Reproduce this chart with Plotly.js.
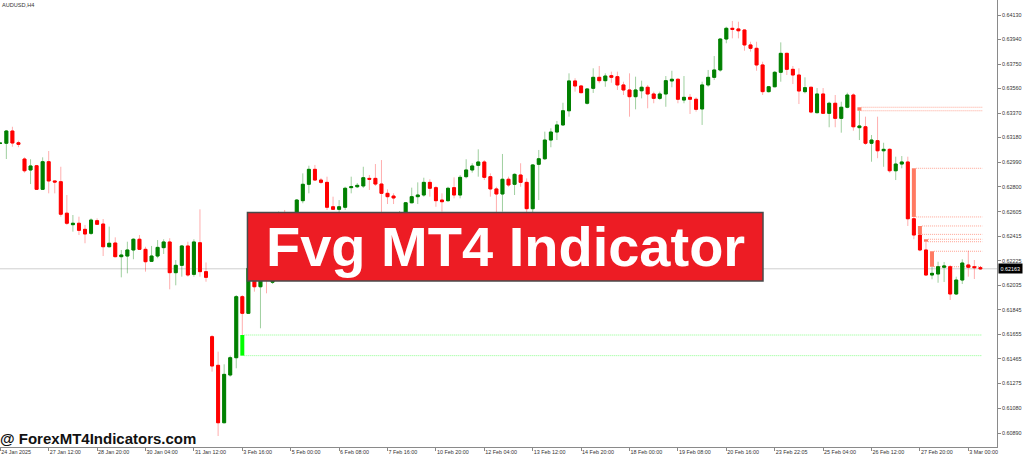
<!DOCTYPE html>
<html><head><meta charset="utf-8">
<script src="https://cdn.plot.ly/plotly-3.0.1.min.js"></script>
<style>html,body{margin:0;padding:0;background:#fff;}#chart{width:1024px;height:456px;}</style>
</head><body><div id="chart"></div>
<script>
const symbolLabel = "AUDUSD,H4";
const bannerText = "Fvg MT4 Indicator";
const watermarkText = "@ ForexMT4Indicators.com";

const openP = [0.63136,0.63136,0.63231,0.63140,0.63014,0.62929,0.62962,0.62779,0.62993,0.62844,
0.62838,0.62594,0.62505,0.62516,0.62469,0.62438,0.62536,0.62510,0.62334,0.62363,
0.62257,0.62262,0.62309,0.62392,0.62314,0.62221,0.62262,0.62327,0.62371,0.62133,
0.62190,0.62340,0.62120,0.62365,0.62141,0.61637,0.61415,0.60970,0.61340,0.61474,
0.61947,0.61818,0.62154,0.62024,0.62138,0.62059,0.62216,0.62588,0.62526,0.62572,
0.62691,0.62818,0.62934,0.62851,0.62833,0.62644,0.62624,0.62640,0.62792,0.62799,
0.62805,0.62864,0.62864,0.62820,0.62748,0.62727,0.62526,0.62588,0.62675,0.62722,
0.62735,0.62833,0.62792,0.62696,0.62691,0.62792,0.62735,0.62877,0.62929,0.62965,
0.62991,0.62877,0.62782,0.62743,0.62857,0.62818,0.62890,0.62833,0.62629,0.62973,
0.63016,0.63161,0.63223,0.63278,0.63388,0.63619,0.63580,0.63446,0.63562,0.63647,
0.63621,0.63660,0.63652,0.63588,0.63549,0.63497,0.63543,0.63570,0.63518,0.63484,
0.63518,0.63619,0.63632,0.63471,0.63492,0.63477,0.63402,0.63588,0.63647,0.63704,
0.63944,0.64027,0.64022,0.64014,0.63898,0.63872,0.63743,0.63536,0.63574,0.63686,
0.63833,0.63709,0.63665,0.63536,0.63570,0.63373,0.63518,0.63368,0.63446,0.63329,
0.63415,0.63510,0.63257,0.63264,0.63136,0.63156,0.63078,0.63089,0.62923,0.62975,
0.62991,0.62551,0.62425,0.62309,0.62115,0.62123,0.62175,0.62179,0.61968,0.62076,
0.62193,0.62179,0.62172];
const highP = [0.63142,0.63239,0.63264,0.63156,0.63027,0.63012,0.62968,0.63027,0.63076,0.62846,
0.62954,0.62735,0.62580,0.62567,0.62503,0.62554,0.62554,0.62549,0.62490,0.62407,
0.62309,0.62373,0.62400,0.62425,0.62334,0.62340,0.62386,0.62392,0.62400,0.62231,
0.62348,0.62373,0.62392,0.62624,0.62212,0.61650,0.61521,0.61423,0.61490,0.61960,
0.61960,0.62185,0.62185,0.62169,0.62216,0.62247,0.62607,0.62619,0.62588,0.62704,
0.62903,0.62962,0.62968,0.62867,0.62877,0.62722,0.62696,0.62799,0.62877,0.62828,
0.62954,0.62890,0.62975,0.63006,0.62779,0.62748,0.62611,0.62681,0.62792,0.62833,
0.62869,0.62857,0.62805,0.62748,0.62799,0.62872,0.62890,0.63012,0.62981,0.63089,
0.63006,0.62903,0.62799,0.63053,0.62877,0.62903,0.62981,0.62864,0.62975,0.63084,
0.63226,0.63252,0.63309,0.63450,0.63678,0.63640,0.63588,0.63562,0.63717,0.63735,
0.63678,0.63691,0.63691,0.63613,0.63678,0.63652,0.63621,0.63588,0.63536,0.63536,
0.63657,0.63698,0.63640,0.63657,0.63518,0.63492,0.63613,0.63704,0.63812,0.63949,
0.64039,0.64084,0.64078,0.64019,0.63923,0.63923,0.63768,0.63580,0.63696,0.63918,
0.63838,0.63735,0.63717,0.63647,0.63574,0.63564,0.63564,0.63458,0.63510,0.63458,
0.63528,0.63523,0.63388,0.63342,0.63200,0.63342,0.63140,0.63097,0.63032,0.63037,
0.63032,0.62565,0.62430,0.62373,0.62179,0.62218,0.62216,0.62193,0.62102,0.62237,
0.62303,0.62231,0.62185];
const lowP = [0.63130,0.63014,0.63109,0.63105,0.62908,0.62820,0.62774,0.62774,0.62748,0.62748,
0.62567,0.62503,0.62451,0.62425,0.62361,0.62425,0.62503,0.62262,0.62329,0.62252,
0.62097,0.62128,0.62237,0.62309,0.62141,0.62216,0.62245,0.62278,0.62004,0.62035,
0.62102,0.62102,0.62102,0.62102,0.62063,0.61366,0.60867,0.60966,0.61327,0.61392,
0.61650,0.61813,0.61986,0.61702,0.61973,0.62045,0.62200,0.62479,0.62495,0.62549,
0.62671,0.62748,0.62844,0.62820,0.62619,0.62619,0.62595,0.62619,0.62748,0.62789,
0.62789,0.62774,0.62805,0.62595,0.62665,0.62665,0.62495,0.62572,0.62671,0.62665,
0.62722,0.62722,0.62644,0.62606,0.62683,0.62709,0.62709,0.62864,0.62908,0.62877,
0.62851,0.62722,0.62593,0.62606,0.62799,0.62735,0.62799,0.62593,0.62588,0.62696,
0.63006,0.63105,0.63161,0.63270,0.63342,0.63536,0.63523,0.63436,0.63526,0.63601,
0.63574,0.63605,0.63549,0.63510,0.63342,0.63399,0.63484,0.63407,0.63446,0.63471,
0.63419,0.63570,0.63446,0.63446,0.63363,0.63381,0.63278,0.63574,0.63626,0.63691,
0.63911,0.63949,0.63949,0.63853,0.63846,0.63698,0.63510,0.63529,0.63570,0.63613,
0.63665,0.63595,0.63440,0.63523,0.63368,0.63367,0.63363,0.63260,0.63260,0.63218,
0.63407,0.63233,0.63161,0.63123,0.62993,0.63020,0.62954,0.62908,0.62851,0.62942,
0.62495,0.62392,0.62299,0.62107,0.62082,0.62055,0.62061,0.61921,0.61960,0.62045,
0.62102,0.62084,0.62154];
const closeP = [0.63136,0.63231,0.63138,0.63128,0.62923,0.62960,0.62779,0.62993,0.62844,0.62836,
0.62586,0.62516,0.62516,0.62461,0.62433,0.62541,0.62508,0.62334,0.62361,0.62257,
0.62270,0.62309,0.62392,0.62314,0.62218,0.62262,0.62329,0.62371,0.62133,0.62190,
0.62340,0.62115,0.62371,0.62141,0.62097,0.61410,0.60970,0.61345,0.61474,0.61947,
0.61818,0.62167,0.62024,0.62138,0.62092,0.62216,0.62588,0.62526,0.62572,0.62696,
0.62818,0.62934,0.62851,0.62833,0.62640,0.62624,0.62644,0.62787,0.62799,0.62810,
0.62869,0.62857,0.62820,0.62748,0.62722,0.62712,0.62595,0.62675,0.62722,0.62735,
0.62833,0.62787,0.62691,0.62683,0.62787,0.62735,0.62872,0.62929,0.62960,0.62991,
0.62872,0.62782,0.62743,0.62857,0.62813,0.62895,0.62833,0.62629,0.62968,0.63016,
0.63161,0.63223,0.63278,0.63388,0.63619,0.63580,0.63528,0.63557,0.63647,0.63621,
0.63657,0.63647,0.63588,0.63549,0.63497,0.63549,0.63570,0.63518,0.63484,0.63518,
0.63621,0.63632,0.63477,0.63492,0.63477,0.63399,0.63588,0.63647,0.63704,0.63944,
0.64027,0.64019,0.64008,0.63898,0.63872,0.63743,0.63536,0.63574,0.63686,0.63833,
0.63709,0.63665,0.63541,0.63567,0.63378,0.63518,0.63368,0.63446,0.63329,0.63415,
0.63510,0.63264,0.63270,0.63136,0.63161,0.63078,0.63089,0.62923,0.62975,0.62991,
0.62551,0.62425,0.62309,0.62115,0.62128,0.62179,0.62185,0.61968,0.62076,0.62208,
0.62175,0.62172,0.62163];

const timeLabels = ["24 Jan 2025","27 Jan 12:00","28 Jan 20:00","30 Jan 04:00","31 Jan 12:00","3 Feb 16:00","5 Feb 00:00","6 Feb 08:00","7 Feb 16:00","10 Feb 20:00","12 Feb 04:00","13 Feb 12:00","14 Feb 20:00","18 Feb 00:00","19 Feb 08:00","20 Feb 16:00","23 Feb 22:05","25 Feb 04:00","26 Feb 12:00","27 Feb 20:00","3 Mar 00:00"];
const timeLabelBars = [0,8,16,24,32,40,48,56,64,72,80,88,96,104,112,120,128,136,144,152,160];
const priceTicks = [0.64130,0.63940,0.63750,0.63560,0.63370,0.63180,0.62990,0.62800,0.62605,0.62415,0.62225,0.62035,0.61845,0.61655,0.61465,0.61275,0.61080,0.60890];
const currentPrice = 0.62163;

// Fair value gaps found by the indicator
const fvgBar    = [40, 142, 151, 152, 153, 154];
const fvgTop    = [0.61650, 0.63415, 0.62942, 0.62495, 0.62392, 0.62299];
const fvgBottom = [0.61490, 0.63388, 0.62565, 0.62430, 0.62373, 0.62179];
const fvgKind   = ["bull","bear","bear","bear","bear","bear"];

const xs = openP.map((_, i) => i);
const lastBar = xs[xs.length - 1];
const bodyHigh = openP.map((o, i) => Math.max(o, closeP[i]));
const bodyLow = openP.map((o, i) => Math.min(o, closeP[i]));

const wicks = {
  type: 'candlestick', x: xs, open: openP, high: highP, low: lowP, close: closeP,
  whiskerwidth: 0, hoverinfo: 'skip', showlegend: false,
  increasing: {line: {color: 'rgba(0,128,0,0.38)', width: 1}, fillcolor: 'rgba(0,128,0,0.38)'},
  decreasing: {line: {color: 'rgba(255,0,0,0.32)', width: 1}, fillcolor: 'rgba(255,0,0,0.32)'}
};
const bodies = {
  type: 'candlestick', x: xs, open: openP, high: bodyHigh, low: bodyLow, close: closeP,
  whiskerwidth: 0, hoverinfo: 'skip', showlegend: false,
  increasing: {line: {color: '#008000', width: 1}, fillcolor: '#008000'},
  decreasing: {line: {color: '#ff0000', width: 1}, fillcolor: '#ff0000'}
};

const shapes = [];
shapes.push({type: 'line', xref: 'paper', x0: 0, x1: 1, yref: 'y', y0: currentPrice, y1: currentPrice,
  line: {color: '#cfcfcf', width: 1}, layer: 'below'});
fvgBar.forEach((b, k) => {
  const bull = fvgKind[k] === 'bull';
  const lineCol = bull ? '#8cff8c' : '#ffa595';
  const boxCol = bull ? '#00ff00' : '#ff7a62';
  [fvgTop[k], fvgBottom[k]].forEach(v => shapes.push({type: 'line', xref: 'x', yref: 'y',
    x0: b + 0.33, x1: lastBar + 0.3, y0: v, y1: v, line: {color: lineCol, width: 1, dash: '1px,1px'}, layer: 'below'}));
  shapes.push({type: 'rect', xref: 'x', yref: 'y', x0: b - 0.33, x1: b + 0.33, y0: fvgBottom[k], y1: fvgTop[k],
    fillcolor: boxCol, line: {width: 0}, layer: 'above'});
});
// banner
shapes.push({type: 'rect', xref: 'paper', yref: 'paper', x0: 0.2482, x1: 0.7653, y0: 0.3714, y1: 0.5246,
  fillcolor: '#ED1C24', line: {color: '#4a4a4a', width: 1.5}, layer: 'above'});

const tickFont = {family: 'Liberation Sans, Arial, sans-serif', size: 5.4, color: '#333'};
const annotations = [
  {xref: 'paper', yref: 'paper', x: 0.5068, y: 0.4480, xanchor: 'center', yanchor: 'middle', showarrow: false,
   text: '<b>' + bannerText + '</b>', font: {family: 'Liberation Sans, Arial, sans-serif', size: 56, color: '#ffffff'}},
  {xref: 'paper', yref: 'paper', x: -0.002, y: -0.0048, xanchor: 'left', yanchor: 'bottom', showarrow: false,
   text: '<b>' + watermarkText + '</b>', font: {family: 'Liberation Sans, Arial, sans-serif', size: 15, color: '#111'}},
  {xref: 'paper', yref: 'paper', x: 0.0, y: 1.0, xanchor: 'left', yanchor: 'top', showarrow: false,
   text: symbolLabel, font: {family: 'Liberation Sans, Arial, sans-serif', size: 5.6, color: '#333'}},
  {xref: 'paper', yref: 'y', x: 1.001, y: currentPrice, xanchor: 'left', yanchor: 'middle', showarrow: false,
   text: currentPrice.toFixed(5), bgcolor: '#000', borderpad: 1.5,
   font: {family: 'Liberation Sans, Arial, sans-serif', size: 5.4, color: '#fff'}}
];

const layout = {
  width: 1024, height: 456,
  margin: {l: 0, r: 27, t: 0, b: 9, pad: 0},
  paper_bgcolor: '#fff', plot_bgcolor: '#fff',
  showlegend: false, hovermode: false,
  boxgap: 0.3, boxgroupgap: 0.3,
  xaxis: {range: [-0.05, 164.74], tickmode: 'array', tickvals: timeLabelBars, ticktext: timeLabels,
    ticks: 'outside', ticklen: 3, tickcolor: '#888', showline: true, linecolor: '#8a8a8a', linewidth: 1,
    showgrid: false, zeroline: false, tickfont: tickFont, ticklabelposition: 'outside right',
    rangeslider: {visible: false}, fixedrange: true},
  yaxis: {side: 'right', range: [0.607820, 0.642463], tickmode: 'array', tickvals: priceTicks,
    ticktext: priceTicks.map(v => v.toFixed(5)), ticks: 'outside', ticklen: 3, tickcolor: '#888',
    showline: true, linecolor: '#8a8a8a', linewidth: 1, showgrid: false, zeroline: false,
    tickfont: tickFont, fixedrange: true},
  shapes: shapes,
  annotations: annotations
};

Plotly.newPlot('chart', [wicks, bodies], layout, {staticPlot: true, displayModeBar: false});
</script></body></html>
